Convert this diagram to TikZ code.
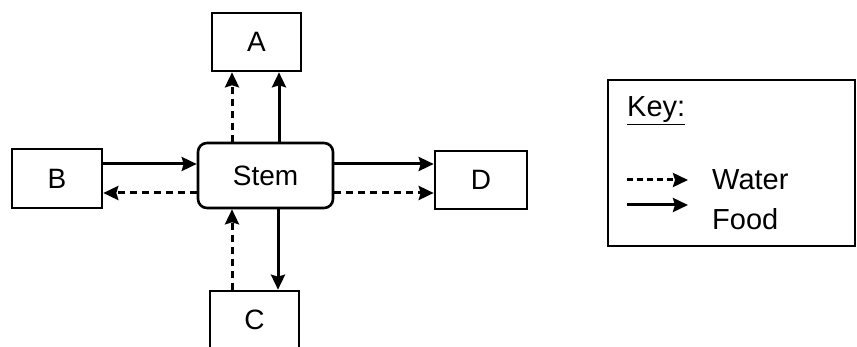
\documentclass[tikz,border=0pt]{standalone}
\usepackage{fontspec}
\setmainfont{Liberation Sans}
\usetikzlibrary{arrows.meta}
\begin{document}
\begin{tikzpicture}[x=1pt,y=-1pt,
  box/.style={draw, line width=2.6pt, inner sep=0pt, font=\fontsize{28}{32}\selectfont},
  keytext/.style={inner sep=0pt, anchor=base west, font=\fontsize{29}{33}\selectfont},
  flow/.style={line width=3pt, -{Stealth[length=15pt,width=14pt,inset=2pt]}},
  food/.style={flow},
  water/.style={flow, dash pattern=on 7pt off 5pt}]
\useasboundingbox (0,0) rectangle (857,347);
% boxes
\node[box, minimum width=89pt, minimum height=58pt] (A) at (256.5,42) {A};
\node[box, minimum width=90pt, minimum height=59pt] (B) at (57,178.5) {B};
\node[box, rounded corners=9pt, minimum width=135pt, minimum height=65pt] (S) at (265.5,175.5) {Stem};
\node[box, minimum width=92pt, minimum height=58pt] (D) at (481,180) {D};
\node[box, minimum width=89pt, minimum height=58pt] (C) at (254.5,320) {C};
% attachment points on the stem
\coordinate (sw1) at ([yshift=11.5pt]S.west);
\coordinate (sw2) at ([yshift=-17.5pt]S.west);
\coordinate (se1) at ([yshift=11.5pt]S.east);
\coordinate (se2) at ([yshift=-17.5pt]S.east);
\coordinate (sn1) at ([xshift=-33.5pt]S.north);
\coordinate (sn2) at ([xshift=13.5pt]S.north);
\coordinate (ss1) at ([xshift=-33.5pt]S.south);
\coordinate (ss2) at ([xshift=12.5pt]S.south);
% connectors
\draw[food] (B.east |- sw1) -- (sw1);
\draw[water] (sw2) -- (B.east |- sw2);
\draw[food] (se1) -- (D.west |- se1);
\draw[water] (se2) -- (D.west |- se2);
\draw[water] (sn1) -- (A.south -| sn1);
\draw[food] (sn2) -- (A.south -| sn2);
\draw[water] (C.north -| ss1) -- (ss1);
\draw[food] (ss2) -- (C.north -| ss2);
% key
\node[draw, line width=2.4pt, inner sep=0pt, minimum width=247pt, minimum height=166pt] (K) at (731.5,163) {};
\node[keytext] (kt) at (627,117) {\underline{Key:}};
\node[keytext] (kw) at (712,190) {Water};
\node[keytext] (kf) at (712,230) {Food};
\coordinate (kw1) at (627,180);
\coordinate (kw2) at (688,180);
\coordinate (kf1) at (627,205);
\coordinate (kf2) at (688,205);
\draw[water, dash pattern=on 6pt off 4pt] (kw1) -- (kw2);
\draw[food] (kf1) -- (kf2);
\end{tikzpicture}
\end{document}
